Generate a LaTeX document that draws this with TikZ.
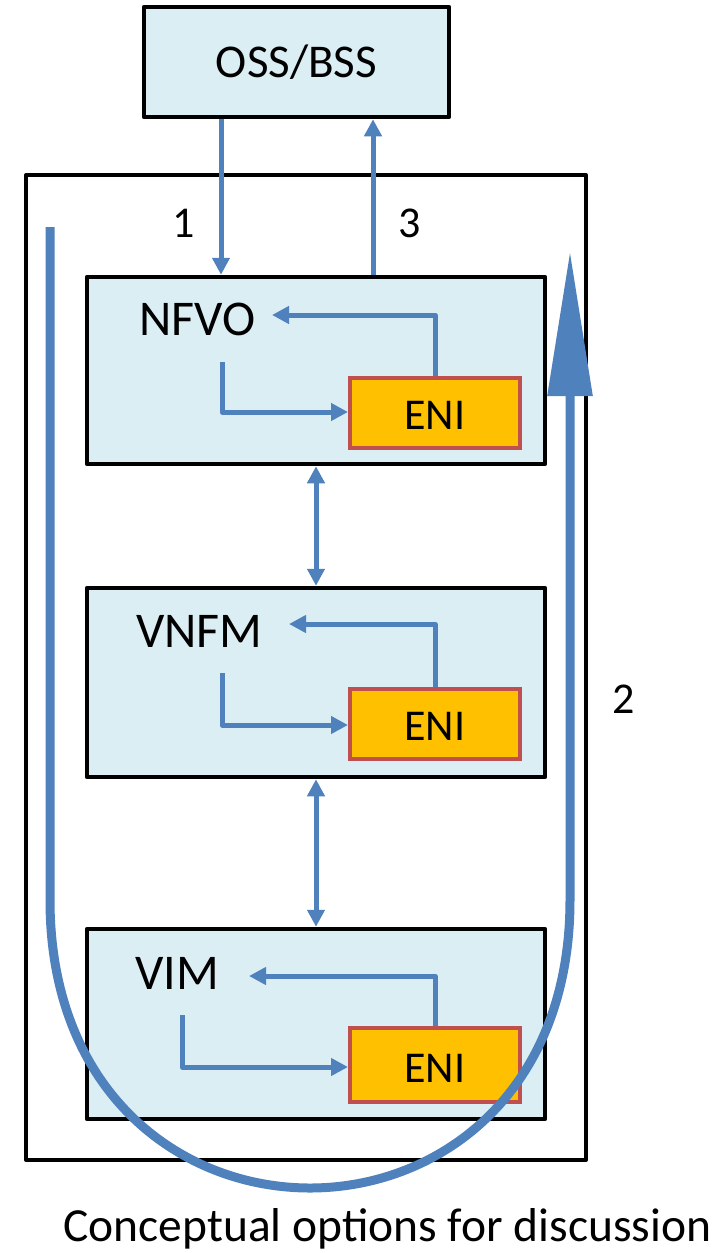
\documentclass[tikz,border=0pt]{standalone}
\usepackage{fontspec}
\setmainfont{Carlito}
\usetikzlibrary{arrows.meta}
\definecolor{boxfill}{HTML}{DBEEF4}
\definecolor{arrowblue}{HTML}{4F81BD}
\definecolor{enifill}{HTML}{FFC000}
\definecolor{eniborder}{HTML}{C0504D}
\begin{document}
\begin{tikzpicture}[x=1pt,y=-1pt,
  blockbox/.style={draw=black, line width=4.5pt, fill=boxfill, line join=round, inner sep=0pt},
  outerbox/.style={draw=black, line width=4pt, fill=white, line join=round, inner sep=0pt},
  enibox/.style={draw=eniborder, line width=4pt, fill=enifill, inner sep=0pt},
  flow/.style={draw=arrowblue, line width=5pt, line join=round, -{Triangle[length=17pt,width=17pt]}},
  dflow/.style={draw=arrowblue, line width=5pt, {Triangle[length=17pt,width=17pt]}-{Triangle[length=17pt,width=17pt]}},
  namelbl/.style={font=\fontsize{50}{60}\selectfont, inner sep=0pt, anchor=base west},
  enilbl/.style={font=\fontsize{44}{53}\selectfont, inner sep=0pt},
  numlbl/.style={font=\fontsize{44}{53}\selectfont, inner sep=0pt, anchor=base}
]
\useasboundingbox (0,0) rectangle (722,1253);

% outer frame
\node[outerbox, minimum width=560pt, minimum height=985pt] (frame) at (306,667.5) {};

% OSS/BSS
\node[blockbox, minimum width=305pt, minimum height=110pt,
      font=\fontsize{47}{56}\selectfont] (oss) at (296.5,62) {OSS/BSS};

% function blocks
\node[blockbox, minimum width=458pt, minimum height=187pt] (nfvo) at (316,370.5) {};
\node[blockbox, minimum width=458pt, minimum height=189pt] (vnfm) at (316,682.5) {};
\node[blockbox, minimum width=458pt, minimum height=190pt] (vim)  at (316,1024) {};

% ENI blocks
\node[enibox, minimum width=170pt, minimum height=70pt] (eni1) at (435,413) {};
\node[enibox, minimum width=170pt, minimum height=70pt] (eni2) at (435,724) {};
\node[enibox, minimum width=170pt, minimum height=74pt] (eni3) at (435,1064.5) {};
\node[enilbl, anchor=base] (eni1t) at (435,429) {ENI};
\node[enilbl, anchor=base] (eni2t) at (435,740) {ENI};
\node[enilbl, anchor=base] (eni3t) at (435,1082) {ENI};

% block names
\node[namelbl] (nfvot) at (139,335) {NFVO};
\node[namelbl] (vnfmt) at (136,647) {VNFM};
\node[namelbl] (vimt)  at (135,989) {VIM};

% arrows 1 and 3
\coordinate (a1) at (221,0);
\coordinate (a3) at (373,0);
\draw[flow] (oss.south -| a1) -- (nfvo.north -| a1);
\draw[flow] (nfvo.north -| a3) -- (oss.south -| a3);
\node[numlbl] (n1) at (184,237) {1};
\node[numlbl] (n3) at (410,237) {3};
\node[numlbl] (n2) at (624,713) {2};

% vertical double arrows
\coordinate (dv) at (316,0);
\draw[dflow] (nfvo.south -| dv) -- (vnfm.north -| dv);
\draw[dflow] (vnfm.south -| dv) -- (vim.north -| dv);

% inner loops NFVO
\coordinate (e1up) at (435,315);
\coordinate (e1tip) at (272,315);
\coordinate (e1s) at (222,362);
\coordinate (e1c) at (222,412);
\draw[flow] (eni1.north) -- (e1up) -- (e1tip);
\draw[flow] (e1s) -- (e1c) -- (e1c -| eni1.west);

% inner loops VNFM
\coordinate (e2up) at (435,624);
\coordinate (e2tip) at (289,624);
\coordinate (e2s) at (222,673);
\coordinate (e2c) at (222,725);
\draw[flow] (eni2.north) -- (e2up) -- (e2tip);
\draw[flow] (e2s) -- (e2c) -- (e2c -| eni2.west);

% inner loops VIM
\coordinate (e3up) at (435,976);
\coordinate (e3tip) at (249,976);
\coordinate (e3s) at (182,1015);
\coordinate (e3c) at (182,1067);
\draw[flow] (eni3.north) -- (e3up) -- (e3tip);
\draw[flow] (e3s) -- (e3c) -- (e3c -| eni3.west);

% big U arrow
\coordinate (u0) at (50,227);
\coordinate (u1) at (50,900);
\coordinate (u1c) at (50,1284);
\coordinate (u2c) at (570,1284);
\coordinate (u2) at (570,900);
\coordinate (utip) at (570,251);
\draw[draw=arrowblue, line width=9pt, -{Triangle[length=145pt,width=43pt]}]
  (u0) -- (u1) .. controls (u1c) and (u2c) .. (u2) -- (utip);

% caption
\node[font=\fontsize{47.5}{57}\selectfont, inner sep=0pt, anchor=base] (cap) at (387.5,1241) {Conceptual options for discussion};
\end{tikzpicture}
\end{document}
